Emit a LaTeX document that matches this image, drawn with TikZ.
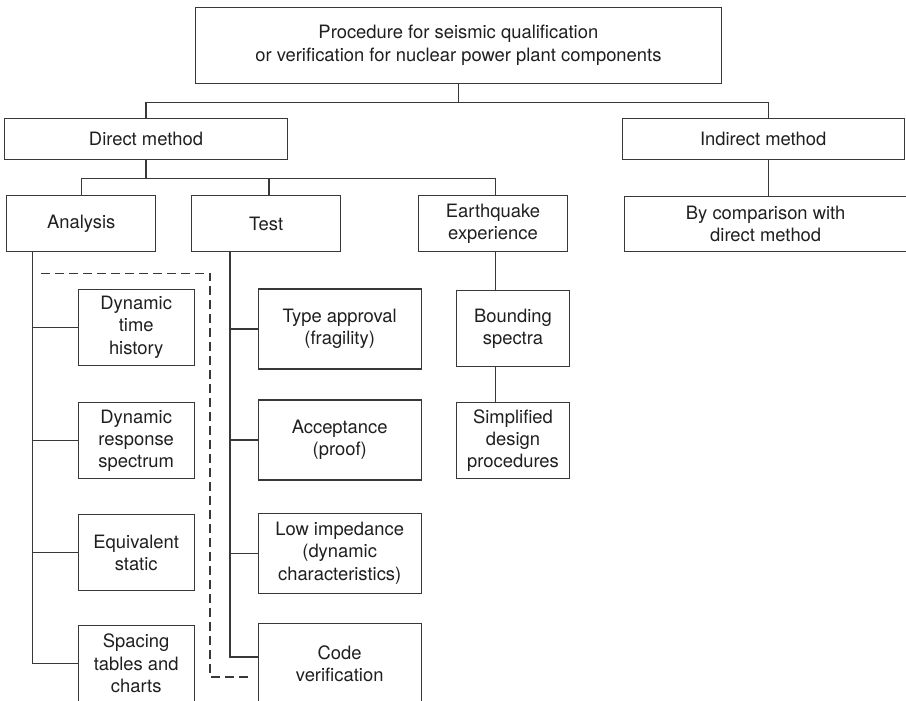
\documentclass[tikz,border=0pt]{standalone}
\usepackage{fontspec}
\setmainfont{TeX Gyre Heros}
\usepackage{tikz}
\usetikzlibrary{calc}

\begin{document}
\begin{tikzpicture}[x=1pt, y=-1pt,
		line width=1.1pt, color=black!78,
		box/.style={draw, rectangle, inner sep=0pt, align=center, text=black!88,
			font=\fontsize{18.4}{22.3}\selectfont},
		dashline/.style={dash pattern=on 9pt off 5pt}]
		%%%%% START %%%%%
		
		\useasboundingbox (0, 0) rectangle (906, 701);
		\clip (0, 0) rectangle (906, 701);
		
		\node[box, minimum width=525.3, minimum height=76] (top) at (458.4, 45.3) {Procedure for seismic qualification\\or verification for nuclear power plant components};
		
		\node[box, minimum width=283.4, minimum height=41.2] (direct) at (146, 139) {Direct method};
		\node[box, minimum width=282.3, minimum height=41.2] (indirect) at (763.2, 139) {Indirect method};
		
		\node[box, minimum width=149, minimum height=56] (analysis) at (81.2, 223.7) {Analysis};
		\node[box, minimum width=149, minimum height=56] (test) at (266.2, 223.7) {Test};
		\node[box, minimum width=149.4, minimum height=56] (quake) at (493, 223.7) {Earthquake\\experience};
		\node[box, minimum width=282.7, minimum height=55] (compare) at (765.7, 224.2) {By comparison with\\direct method};
		
		\node[box, minimum width=116.3, minimum height=76.3] (dth) at (136.2, 327.2) {Dynamic\\time\\history};
		\node[box, minimum width=116.3, minimum height=76] (drs) at (136.2, 440.7) {Dynamic\\response\\spectrum};
		\node[box, minimum width=116.3, minimum height=76] (eqs) at (136.2, 552.7) {Equivalent\\static};
		\node[box, minimum width=116.3, minimum height=76] (stc) at (136.2, 663.3) {Spacing\\tables and\\charts};
		
		\node[box, minimum width=162.7, minimum height=80] (typ) at (339.7, 329) {Type approval\\(fragility)};
		\node[box, minimum width=162.7, minimum height=80] (acc) at (339.7, 440) {Acceptance\\(proof)};
		\node[box, minimum width=162.7, minimum height=79.7] (low) at (339.7, 553.2) {Low impedance\\(dynamic\\characteristics)};
		\node[box, minimum width=162.7, minimum height=80] (code) at (339.7, 663.7) {Code\\verification};
		
		\node[box, minimum width=112.6, minimum height=76] (bound) at (513, 328.7) {Bounding\\spectra};
		\node[box, minimum width=112.6, minimum height=76] (simp) at (513, 440.7) {Simplified\\design\\procedures};
		
		% bus lines
		\coordinate (topbus) at (458.4, 102.7);
		\coordinate (indtop) at (768.3, 118.3);
		\coordinate (dirbus) at (146, 178.3);
		\coordinate (atrunk) at (32.7, 251.7);
		\coordinate (ttrunk) at (230, 251.7);
		\coordinate (qtrunk) at (495.7, 251.7);
		
		\draw (top.south) -- (topbus);
		\draw (direct.north) |- (topbus) -| (indtop);
		\draw (indtop |- indirect.south) -- (indtop |- compare.north);
		
		\draw (direct.south) -- (dirbus);
		\draw (analysis.north) |- (dirbus) -| (qtrunk |- quake.north);
		\draw ([xshift=2.8pt]test.north) -- ([xshift=2.8pt]test.north |- dirbus);
		
		\draw (atrunk) |- (stc.west);
		\draw (atrunk |- dth.west) -- (dth.west);
		\draw (atrunk |- drs.west) -- (drs.west);
		\draw (atrunk |- eqs.west) -- (eqs.west);
		
		\draw (ttrunk) |- ([yshift=6.7pt]code.west);
		\draw (ttrunk |- typ.west) -- (typ.west);
		\draw (ttrunk |- acc.west) -- (acc.west);
		\draw (ttrunk |- low.west) -- (low.west);
		
		\draw (qtrunk) -- (qtrunk |- bound.north);
		\draw (qtrunk |- bound.south) -- (qtrunk |- simp.north);
		
		% dashed frame
		\coordinate (dashstart) at (41, 273.3);
		\coordinate (dashend) at (253, 677);
		\draw[dashline] (dashstart) -- (210, 273.3) -- (210, 677) -- (dashend);
		
		%%%%% END %%%%%
	\end{tikzpicture}
\end{document}
